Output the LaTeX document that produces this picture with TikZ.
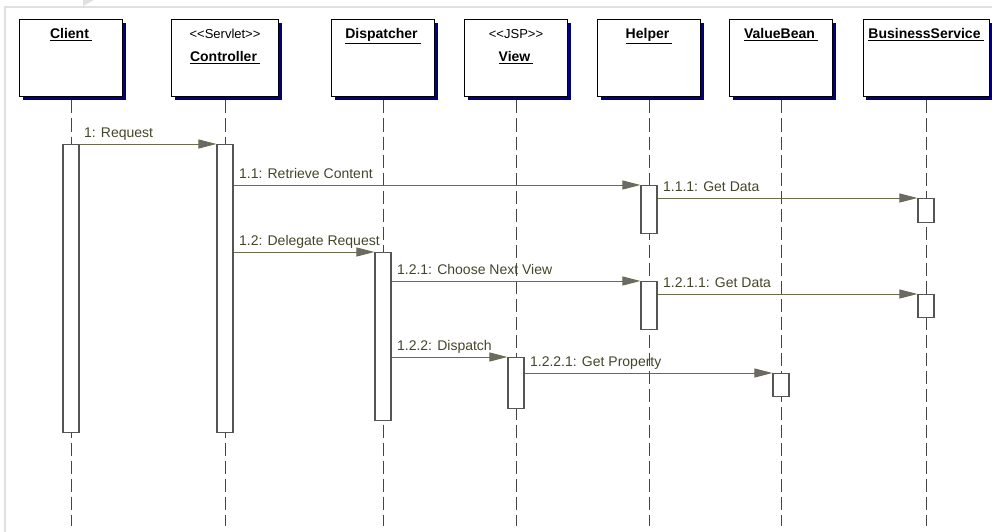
\documentclass[tikz,border=0pt]{standalone}
\usepackage{fontspec}
\setmainfont{Liberation Sans}
\usepackage{xcolor}
\definecolor{msgline}{HTML}{6B6B4B}
\definecolor{msgtext}{HTML}{45452A}
\definecolor{arrowgray}{HTML}{6A6A6A}
\definecolor{shadownavy}{HTML}{000080}
\definecolor{framegray}{HTML}{E0E0E0}
\definecolor{lifegray}{HTML}{454545}
\definecolor{actgray}{HTML}{555555}
\usepackage{tikz}
\usetikzlibrary{positioning,calc,arrows.meta}

\newcommand{\msgfont}{\fontsize{14}{16}\selectfont}
\newcommand{\stereofont}{\fontsize{13}{15}\selectfont}
\newcommand{\objname}[1]{\underline{\textbf{#1}\kern3pt}}

\begin{document}
\begin{tikzpicture}[
        x=1pt, y=-1pt,
        object/.style={draw=black, fill=white, line width=1pt, minimum height=77pt, inner sep=0pt,
            preaction={fill=shadownavy, transform canvas={shift={(3pt,-3pt)}}}},
        objlabel/.style={anchor=base, inner sep=0pt, font=\msgfont},
        stereo/.style={anchor=base, inner sep=0pt, font=\stereofont},
        lifeline/.style={draw=lifegray, line width=1pt, dash pattern=on 13pt off 5pt},
        act/.style={draw=actgray, fill=white, line width=1.2pt, minimum width=16pt, inner sep=0pt, anchor=north},
        msg/.style={draw=msgline, line width=1pt, -{Triangle[length=18pt, width=9pt, fill=arrowgray]}},
        msglabel/.style={pos=0, anchor=base west, xshift=5pt, yshift=7pt, inner sep=0pt, text=msgtext, font=\msgfont},
    ]

    \useasboundingbox (0,0) rectangle (992,532);

    % === Frame ===
    \draw[framegray, line width=2pt] (5,532) -- (5,7) -- (992,7);
    \fill[framegray] (83,0) -- (94,0) -- (83,6) -- cycle;

    % === Objects ===
    \node[object, minimum width=103pt] (client) at (71,58.5) {};
    \node[objlabel] (clientname) at ([yshift=-19pt]client.north) {\objname{Client}};

    \node[object, minimum width=107pt] (controller) at (225,58.5) {};
    \node[stereo] (controllerstereo) at ([yshift=-19pt]controller.north) {<{}<Servlet>{}>};
    \node[objlabel] (controllername) at ([yshift=-42pt]controller.north) {\objname{Controller}};

    \node[object, minimum width=103pt] (dispatcher) at (383,58.5) {};
    \node[objlabel] (dispatchername) at ([yshift=-19pt]dispatcher.north) {\objname{Dispatcher}};

    \node[object, minimum width=103pt] (view) at (516,58.5) {};
    \node[stereo] (viewstereo) at ([yshift=-19pt]view.north) {<{}<JSP>{}>};
    \node[objlabel] (viewname) at ([yshift=-42pt]view.north) {\objname{View}};

    \node[object, minimum width=103pt] (helper) at (649,58.5) {};
    \node[objlabel] (helpername) at ([yshift=-19pt]helper.north) {\objname{Helper}};

    \node[object, minimum width=103pt] (valuebean) at (781,58.5) {};
    \node[objlabel] (valuebeanname) at ([yshift=-19pt]valuebean.north) {\objname{ValueBean}};

    \node[object, minimum width=126pt] (bizservice) at (926,58.5) {};
    \node[objlabel] (bizservicename) at ([yshift=-19pt]bizservice.north) {\objname{BusinessService}};

    % === Lifelines ===
    \coordinate (clientend) at (71,526);
    \coordinate (controllerend) at (225,526);
    \coordinate (dispatcherend) at (383,526);
    \coordinate (viewend) at (516,526);
    \coordinate (helperend) at (649,526);
    \coordinate (valuebeanend) at (781,526);
    \coordinate (bizserviceend) at (926,526);

    \draw[lifeline] ([yshift=-3pt]client.south) -- (clientend);
    \draw[lifeline] ([yshift=-3pt]controller.south) -- (controllerend);
    \draw[lifeline] ([yshift=-3pt]dispatcher.south) -- (dispatcherend);
    \draw[lifeline] ([yshift=-3pt]view.south) -- (viewend);
    \draw[lifeline] ([yshift=-3pt]helper.south) -- (helperend);
    \draw[lifeline] ([yshift=-3pt]valuebean.south) -- (valuebeanend);
    \draw[lifeline] ([yshift=-3pt]bizservice.south) -- (bizserviceend);

    % === Activations ===
    \node[act, minimum height=288pt] (clientact) at (71,144) {};
    \node[act, minimum height=288pt] (controlleract) at (225,144) {};
    \node[act, minimum height=168pt] (dispatcheract) at (383,252) {};
    \node[act, minimum height=48pt] (helperact1) at (649,185) {};
    \node[act, minimum height=48pt] (helperact2) at (649,281) {};
    \node[act, minimum height=24pt] (bizact1) at (926,198) {};
    \node[act, minimum height=23pt] (bizact2) at (926,294) {};
    \node[act, minimum height=51pt] (viewact) at (516,357) {};
    \node[act, minimum height=23pt] (valueact) at (781,373) {};

    % === Messages ===
    \draw[msg] (clientact.north east) -- node[msglabel, xshift=-1pt] {1: Request} (controlleract.north west);
    \draw[msg] (controlleract.east |- helperact1.north) -- node[msglabel] {1.1: Retrieve Content} (helperact1.north west);
    \draw[msg] (helperact1.east |- bizact1.north) -- node[msglabel] {1.1.1: Get Data} (bizact1.north west);
    \draw[msg] (controlleract.east |- dispatcheract.north) -- node[msglabel] {1.2: Delegate Request} (dispatcheract.north west);
    \draw[msg] (dispatcheract.east |- helperact2.north) -- node[msglabel] {1.2.1: Choose Next View} (helperact2.north west);
    \draw[msg] (helperact2.east |- bizact2.north) -- node[msglabel] {1.2.1.1: Get Data} (bizact2.north west);
    \draw[msg] (dispatcheract.east |- viewact.north) -- node[msglabel] {1.2.2: Dispatch} (viewact.north west);
    \draw[msg] (viewact.east |- valueact.north) -- node[msglabel] {1.2.2.1: Get Property} (valueact.north west);

\end{tikzpicture}
\end{document}
